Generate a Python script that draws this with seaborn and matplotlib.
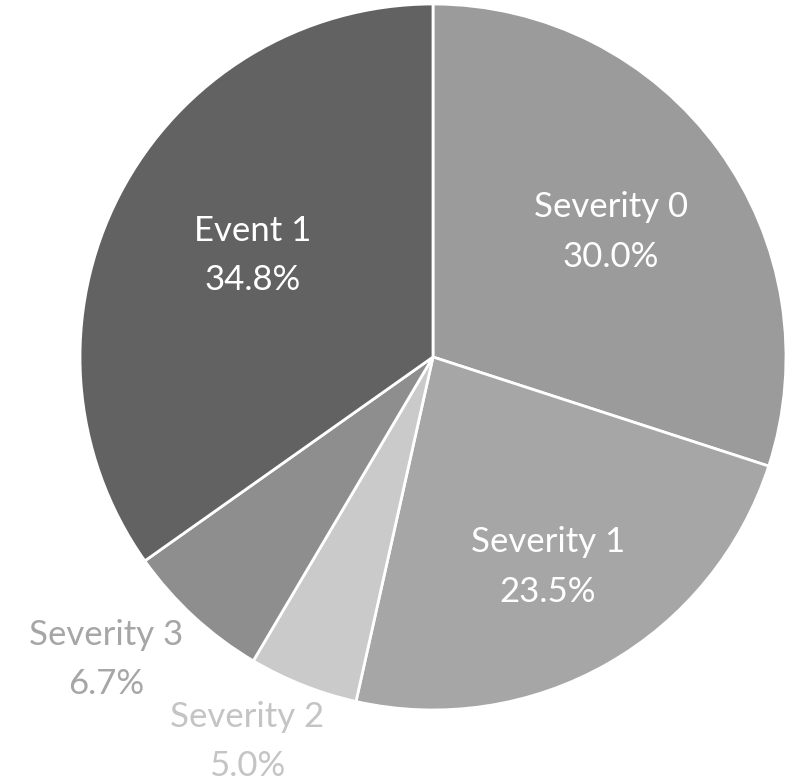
import numpy as np
import matplotlib
matplotlib.use("Agg")
import matplotlib.pyplot as plt
import seaborn as sns

categories = ["Severity 0", "Severity 1", "Severity 2", "Severity 3", "Event 1"]
values = [30.0, 23.5, 5.0, 6.7, 34.8]

colors = ["#9b9b9b", "#a6a6a6", "#cacaca", "#8e8e8e", "#626262"]
text_colors = ["white", "white", "#c4c4c4", "#a6a6a6", "white"]
# label layout (radius fraction, angular nudge in degrees from slice middle)
label_dist = [0.616, 0.678, 1.211, 1.261, 0.586]
label_nudge = [-0.9, -1.0, -4.2, -4.6, -2.1]

sns.set_theme(style="white")
plt.rcParams['font.family'] = ['Lato', 'DejaVu Sans']

fig = plt.figure(figsize=(7.93, 7.84), dpi=100)
ax = fig.add_axes([80/793, 74/784, 706/793, 706/784])

wedges, _ = ax.pie(values, colors=colors, startangle=90, counterclock=False,
                   radius=1.0, wedgeprops=dict(edgecolor="white", linewidth=2))

total = sum(values)
for w, name, v, tc, d, nd in zip(wedges, categories, values, text_colors,
                                 label_dist, label_nudge):
    ang = np.deg2rad((w.theta1 + w.theta2) / 2 + nd)
    ax.text(d * np.cos(ang), d * np.sin(ang), f"{name}\n{v / total * 100:.1f}%",
            ha="center", va="center", color=tc, fontsize=25, linespacing=1.66)

ax.set_xlim(-1, 1)
ax.set_ylim(-1, 1)
ax.set_aspect("equal")
ax.axis("off")
fig.savefig("out.png", dpi=100)
